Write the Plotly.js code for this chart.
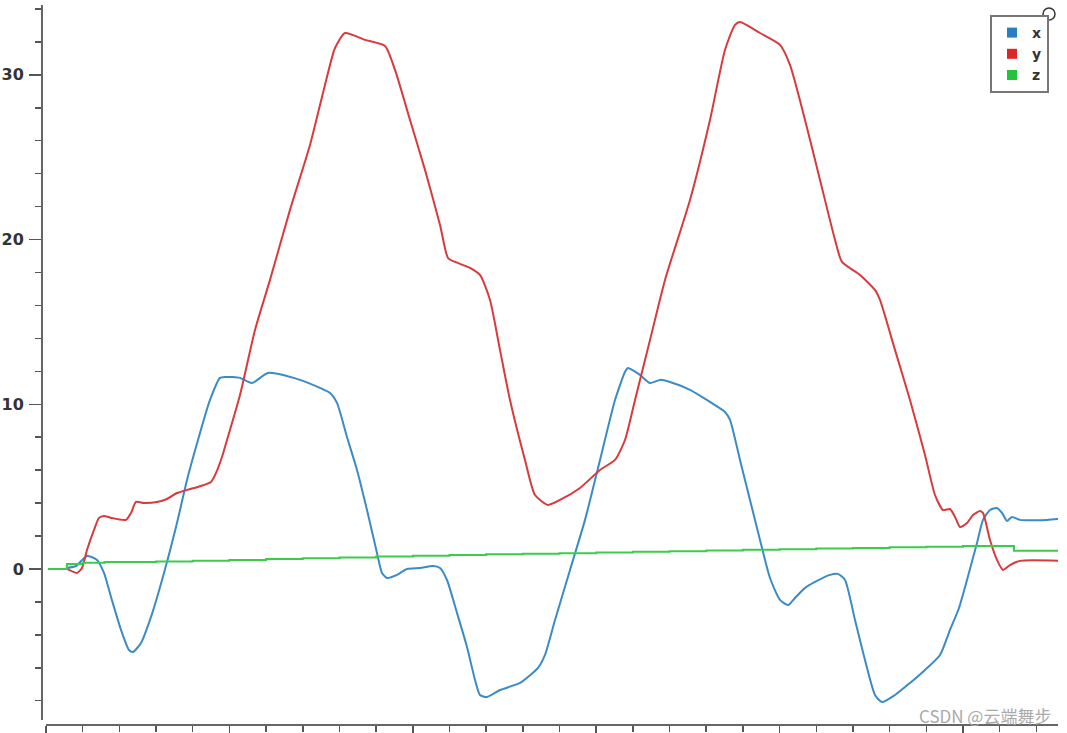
<!DOCTYPE html>
<html>
<head>
<meta charset="utf-8">
<script src="https://cdn.plot.ly/plotly-3.0.1.min.js"></script>
<style>html,body{margin:0;padding:0;background:#fff;}#chart{width:1067px;height:733px;}</style>
</head>
<body>
<div id="chart"></div>
<script>
// Series x (blue)
const xTime = [0.573,0.818,1.118,1.390,1.581,1.772,2.045,2.263,2.372,2.590,2.863,3.217,3.571,3.844,4.144,4.471,4.744,4.880,5.289,5.616,6.052,6.925,7.470,7.743,7.933,8.206,8.479,8.751,9.024,9.160,9.297,9.569,9.842,10.196,10.551,10.742,10.932,11.205,11.478,11.696,11.832,12.023,12.377,12.923,13.413,13.604,13.877,14.286,14.695,15.104,15.513,15.785,15.867,16.194,16.467,16.739,17.012,17.557,18.102,18.511,18.648,18.920,19.193,19.466,19.738,20.011,20.229,20.420,20.693,20.965,21.374,21.592,21.783,22.056,22.328,22.601,22.792,23.146,23.555,23.964,24.373,24.646,24.891,25.109,25.382,25.545,25.736,25.927,26.063,26.200,26.336,26.554,27.290,27.645];
const xVals = [0.06,0.18,0.79,0.55,-0.24,-1.70,-3.70,-4.92,-5.04,-4.49,-2.91,-0.24,2.79,5.40,7.83,10.26,11.60,11.66,11.60,11.29,11.90,11.48,10.99,10.69,10.08,8.01,6.01,3.58,0.97,-0.24,-0.55,-0.36,0.00,0.06,0.18,0.06,-0.67,-2.67,-4.74,-6.74,-7.65,-7.77,-7.35,-6.92,-6.01,-5.22,-3.10,-0.06,2.98,6.62,10.26,11.96,12.20,11.78,11.29,11.48,11.35,10.87,10.14,9.53,9.05,6.62,4.19,1.76,-0.55,-1.88,-2.19,-1.76,-1.15,-0.79,-0.36,-0.30,-0.67,-3.10,-5.53,-7.65,-8.08,-7.65,-6.92,-6.13,-5.22,-3.70,-2.37,-0.67,1.58,2.98,3.58,3.70,3.40,2.91,3.16,2.98,2.98,3.04];

// Series y (red)
const yTime = [0.573,0.845,0.981,1.118,1.309,1.445,1.581,1.772,2.181,2.317,2.454,2.672,3.026,3.299,3.571,3.844,4.226,4.498,4.635,4.798,4.935,5.289,5.698,6.107,6.652,7.197,7.606,7.879,8.152,8.697,9.242,9.515,9.924,10.333,10.742,10.960,11.151,11.560,11.832,12.105,12.377,12.650,13.059,13.332,13.686,14.013,14.558,15.104,15.513,15.785,16.058,16.467,16.876,17.557,18.102,18.511,18.784,18.920,19.466,20.011,20.283,20.693,21.102,21.511,21.701,22.192,22.601,22.737,23.146,23.555,23.964,24.237,24.455,24.646,24.782,24.918,25.109,25.273,25.463,25.545,25.736,25.927,26.090,26.281,26.554,27.645];
const yVals = [0,-0.24,0.06,1.15,2.37,3.10,3.22,3.10,2.98,3.40,4.07,4.01,4.07,4.25,4.61,4.80,5.04,5.28,5.83,6.80,7.83,10.56,14.51,17.55,21.80,25.74,29.39,31.63,32.54,32.12,31.75,30.30,27.26,24.23,20.89,18.88,18.64,18.28,17.85,16.33,13.30,10.26,6.62,4.49,3.89,4.19,4.92,6.01,6.62,7.83,10.26,13.90,17.55,22.40,27.26,31.51,33.03,33.21,32.54,31.82,30.60,27.26,23.62,19.98,18.64,17.85,16.94,16.33,13.30,10.26,6.92,4.49,3.58,3.64,3.16,2.55,2.79,3.28,3.52,3.40,1.76,0.55,-0.06,0.24,0.49,0.49];

// Series z (green), step-wise
const zTime = [0.05,0.57,1.0,1.6,3.0,4.0,5.0,6.0,7.0,8.0,9.0,10.0,11.0,12.0,13.0,14.0,15.0,16.0,17.0,18.0,19.0,20.0,21.0,22.0,23.0,24.0,25.0,26.39,27.645];
const zVals = [0,0.30,0.38,0.42,0.45,0.50,0.55,0.60,0.65,0.70,0.75,0.80,0.85,0.90,0.93,0.96,1.00,1.04,1.08,1.12,1.16,1.20,1.24,1.28,1.32,1.35,1.40,1.10,1.10];

const seriesNames = ['x','y','z'];
const lineColors = ['#3a8bc6','#d93a3c','#3ccc4c'];
const legendColors = ['#2a7fc2','#dd2626','#22c43c'];

const yTickVals = [0,10,20,30];
const yTickText = ['0','10','20','30'];

const W = 1067, H = 733;
const ml = 42, mr = 9, mt = 5, mb = 8;
const pw = W - ml - mr, ph = H - mt - mb;

const traces = [
  {x: xTime, y: xVals, mode: 'lines', line: {color: lineColors[0], width: 2, shape: 'spline', smoothing: 0.6}, showlegend: false, hoverinfo: 'skip'},
  {x: yTime, y: yVals, mode: 'lines', line: {color: lineColors[1], width: 2, shape: 'spline', smoothing: 0.6}, showlegend: false, hoverinfo: 'skip'},
  {x: zTime, y: zVals, mode: 'lines', line: {color: lineColors[2], width: 2, shape: 'hv'}, showlegend: false, hoverinfo: 'skip'}
];
seriesNames.forEach((n, i) => {
  traces.push({x: [null], y: [null], name: n, mode: 'markers',
    marker: {symbol: 'square', size: 10, color: legendColors[i]}, showlegend: true});
});

const layout = {
  width: W, height: H,
  margin: {l: ml, r: mr, t: mt, b: mb, autoexpand: false},
  paper_bgcolor: '#fff', plot_bgcolor: '#fff',
  xaxis: {
    domain: [4/pw, 1], anchor: 'free', position: 0,
    range: [0, 27.59], showgrid: false, zeroline: false,
    showline: true, linecolor: '#666', linewidth: 2,
    ticks: 'outside', ticklen: 10, tickwidth: 1.5, tickcolor: '#555',
    dtick: 5, tick0: 0, showticklabels: false,
    minor: {dtick: 1, ticks: 'outside', ticklen: 6, tickwidth: 1.5, tickcolor: '#555', showgrid: false}
  },
  yaxis: {
    domain: [5/ph, 1], anchor: 'free', position: 0,
    range: [-9.17, 34.24], showgrid: false, zeroline: false,
    showline: true, linecolor: '#666', linewidth: 2,
    ticks: 'outside', ticklen: 12, tickwidth: 1.5, tickcolor: '#555',
    tickmode: 'array', tickvals: yTickVals, ticktext: yTickText,
    ticklabelstandoff: 2,
    tickfont: {family: 'DejaVu Sans', size: 16, color: '#333', weight: 'bold'},
    minor: {dtick: 2, tick0: 0, ticks: 'outside', ticklen: 6, tickwidth: 1.5, tickcolor: '#555', showgrid: false}
  },
  legend: {
    x: (1049 - ml)/pw, y: (H - mb - 15)/ph, xanchor: 'right', yanchor: 'top',
    bgcolor: '#fff', bordercolor: '#777', borderwidth: 2,
    font: {family: 'DejaVu Sans', size: 14, color: '#333', weight: 'bold'},
    itemwidth: 30, tracegroupgap: 0
  },
  shapes: [{
    type: 'circle', xref: 'paper', yref: 'paper',
    xsizemode: 'pixel', ysizemode: 'pixel',
    xanchor: (1049 - ml)/pw, yanchor: (H - mb - 14)/ph,
    x0: -6, x1: 6, y0: -6, y1: 6,
    fillcolor: '#fff', line: {color: '#333', width: 1.5}
  }],
  annotations: [{
    text: 'CSDN @云端舞步', xref: 'paper', yref: 'paper',
    x: (1053 - ml)/pw, y: (H - mb - 715)/ph, xanchor: 'right', yanchor: 'middle',
    showarrow: false, font: {family: 'Noto Sans CJK SC', size: 17, color: '#aaa'}
  }]
};

Plotly.newPlot('chart', traces, layout, {displayModeBar: false, staticPlot: true});
</script>
</body>
</html>
